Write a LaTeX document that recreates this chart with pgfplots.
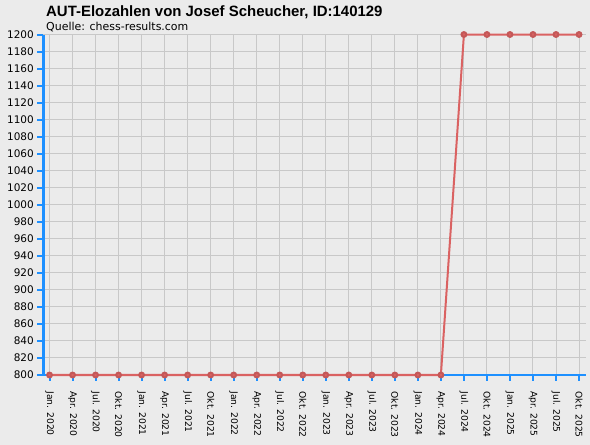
\documentclass[border=0pt]{standalone}
\usepackage{fontspec}
\setmainfont{DejaVu Sans}
\newfontfamily\titlefont{Liberation Sans}
\usepackage{pgfplots}
\pgfplotsset{compat=1.18}
\definecolor{bgc}{RGB}{235,235,235}
\definecolor{gridc}{RGB}{200,200,200}
\definecolor{axisblue}{RGB}{30,144,255}
\definecolor{elored}{RGB}{218,98,98}
\begin{document}
\begin{tikzpicture}
\fill[bgc] (0,0) rectangle (590bp,445bp);
\useasboundingbox (0,0) rectangle (590bp,445bp);
\node[anchor=base west, inner sep=0pt, font=\titlefont\fontsize{15}{17}\selectfont\bfseries]
  at (46bp,428bp) {AUT-Elozahlen von Josef Scheucher, ID:140129};
\node[anchor=base west, inner sep=0pt, font=\fontsize{11}{13}\selectfont]
  at (46bp,414bp) {Quelle: chess-results.com};
\begin{axis}[
  at={(43.3bp,70bp)}, anchor=south west,
  scale only axis, width=542.4bp, height=340.5bp,
  xmin=-0.27, xmax=23.29,
  ymin=800, ymax=1200,
  xtick={0,...,23},
  xticklabels={Jan. 2020,Apr. 2020,Jul. 2020,Okt. 2020,Jan. 2021,Apr. 2021,Jul. 2021,Okt. 2021,Jan. 2022,Apr. 2022,Jul. 2022,Okt. 2022,Jan. 2023,Apr. 2023,Jul. 2023,Okt. 2023,Jan. 2024,Apr. 2024,Jul. 2024,Okt. 2024,Jan. 2025,Apr. 2025,Jul. 2025,Okt. 2025},
  ytick={800,820,...,1200},
  axis x line=bottom, axis y line=left,
  axis line style={-, axisblue, line width=2.5bp},
  tick align=outside, major tick length=6bp,
  tick style={axisblue, line width=2bp},
  grid=major, major grid style={gridc, line width=1bp},
  xticklabel shift=7bp,
  xticklabel style={rotate=-90, anchor=west, font=\fontsize{9.2}{11}\selectfont},
  yticklabel style={font=\fontsize{10.5}{12}\selectfont},
  /pgf/number format/assume math mode=true,
  /pgf/number format/1000 sep={},
  clip=false,
  axis background/.style={fill=bgc},
]
\addplot[elored, line width=2bp, mark=*, mark size=2.4bp,
  mark options={fill=elored, draw=elored!90!black}] coordinates {
  (0,800) (1,800) (2,800) (3,800) (4,800) (5,800) (6,800) (7,800)
  (8,800) (9,800) (10,800) (11,800) (12,800) (13,800) (14,800) (15,800)
  (16,800) (17,800) (18,1200) (19,1200) (20,1200) (21,1200) (22,1200) (23,1200)
};
\end{axis}
\end{tikzpicture}
\end{document}
